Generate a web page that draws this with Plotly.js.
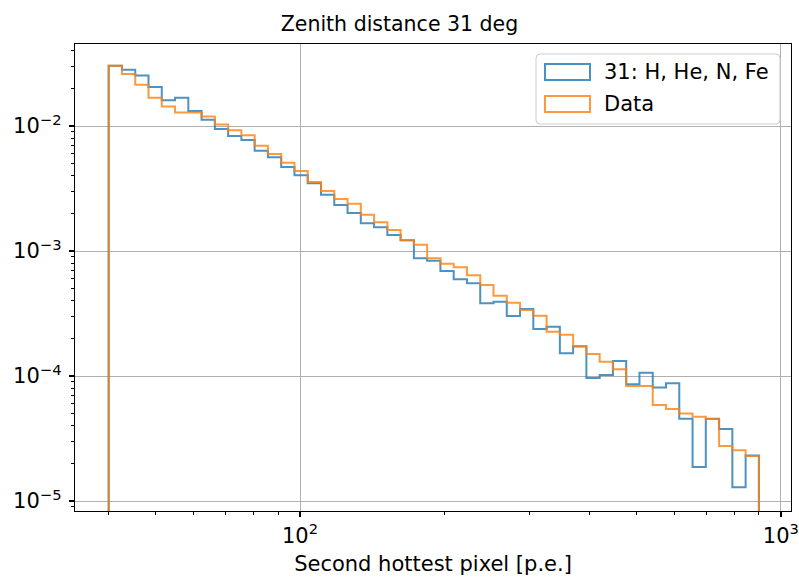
<!DOCTYPE html>
<html>
<head>
<meta charset="utf-8">
<script src="https://cdn.plot.ly/plotly-3.0.1.min.js"></script>
<style>html,body{margin:0;padding:0;background:#fff;}#chart{width:799px;height:577px;}</style>
</head>
<body>
<div id="chart"></div>
<script>
// Histogram binning (log-spaced bins)
const binMin = 40;
const binMax = 900;
const nBins = 49;

// Series names
const seriesNames = ["31: H, He, N, Fe", "Data"];

// Normalised counts per bin
const simValues = [
  0.0304, 0.0282, 0.0253, 0.0205, 0.0161, 0.0168, 0.0132, 0.0112, 0.00946, 0.00832,
  0.00773, 0.00634, 0.00562, 0.0047, 0.00403, 0.00348, 0.00282, 0.00233, 0.00201, 0.00167,
  0.00155, 0.00134, 0.00122, 0.000874, 0.000837, 0.000692, 0.000594, 0.000551, 0.000382, 0.000393,
  0.000302, 0.000344, 0.000238, 0.000248, 0.000152, 0.000172, 0.0000964, 0.000102, 0.000132, 0.0000858,
  0.000106, 0.0000809, 0.0000876, 0.0000455, 0.0000187, 0.0000454, 0.0000377, 0.0000129, 0.0000231
];
const dataValues = [
  0.0304, 0.0261, 0.0214, 0.0168, 0.0143, 0.0128, 0.0128, 0.0119, 0.0103, 0.00924,
  0.00843, 0.00696, 0.00597, 0.00508, 0.00437, 0.00356, 0.00302, 0.00261, 0.00239, 0.00195,
  0.0017, 0.00147, 0.00122, 0.00112, 0.000874, 0.000791, 0.000741, 0.000639, 0.000535, 0.000439,
  0.000386, 0.000337, 0.000304, 0.000226, 0.000214, 0.000174, 0.00015, 0.00013, 0.000113, 0.0000832,
  0.0000832, 0.0000586, 0.0000545, 0.0000501, 0.0000472, 0.0000453, 0.0000275, 0.0000255, 0.0000229
];

// Tick labels
const xTickVals = [100, 1000];
const xTickText = ["10<sup>2</sup>", "10<sup>3</sup>"];
const yTickVals = [1e-2, 1e-3, 1e-4, 1e-5];
const yTickText = ["10<sup>\u22122</sup>", "10<sup>\u22123</sup>", "10<sup>\u22124</sup>", "10<sup>\u22125</sup>"];

// ---- build ----
const edges = [];
for (let i = 0; i <= nBins; i++) edges.push(binMin * Math.pow(binMax / binMin, i / nBins));

const floorVal = 1e-8; // outlines drop to the bottom of the axes like a step histogram
function stepTrace(vals, color, name) {
  const x = [edges[0]], y = [floorVal];
  for (let i = 0; i < vals.length; i++) { x.push(edges[i]); y.push(vals[i]); }
  x.push(edges[vals.length]); y.push(vals[vals.length - 1]);
  x.push(edges[vals.length]); y.push(floorVal);
  return {
    x: x, y: y, type: 'scatter', mode: 'lines', name: name,
    line: {shape: 'hv', color: color, width: 2}, opacity: 0.8,
    showlegend: false, hoverinfo: 'skip', cliponaxis: true
  };
}

const blue = '#1f77b4', orange = '#ff7f0e';
const traces = [stepTrace(simValues, blue, seriesNames[0]), stepTrace(dataValues, orange, seriesNames[1])];

function minorVals(lo, hi) {
  const out = [];
  for (let e = lo; e <= hi; e++) for (let d = 2; d <= 9; d++) out.push(d * Math.pow(10, e));
  return out;
}

const font = {family: 'DejaVu Sans, sans-serif', color: '#000', size: 21};

// legend geometry (paper coords)
const W = 716, H = 467;
const px = v => (v - 75) / W, py = v => (511 - v) / H;
const lx0 = px(536), lx1 = px(780), ly0 = py(124), ly1 = py(54);
const rx = 4 / W, ry = 4 / H;
const legendPath = `M${lx0 + rx},${ly1} L${lx1 - rx},${ly1} Q${lx1},${ly1} ${lx1},${ly1 - ry} L${lx1},${ly0 + ry} Q${lx1},${ly0} ${lx1 - rx},${ly0} L${lx0 + rx},${ly0} Q${lx0},${ly0} ${lx0},${ly0 + ry} L${lx0},${ly1 - ry} Q${lx0},${ly1} ${lx0 + rx},${ly1} Z`;

const shapes = [
  {type: 'path', xref: 'paper', yref: 'paper', path: legendPath, fillcolor: 'rgba(255,255,255,0.8)', line: {color: '#cccccc', width: 1}},
  {type: 'rect', xref: 'paper', yref: 'paper', x0: px(545), x1: px(590), y0: py(80), y1: py(64), line: {color: blue, width: 2}, opacity: 0.8, fillcolor: 'rgba(0,0,0,0)'},
  {type: 'rect', xref: 'paper', yref: 'paper', x0: px(545), x1: px(590), y0: py(112), y1: py(96), line: {color: orange, width: 2}, opacity: 0.8, fillcolor: 'rgba(0,0,0,0)'}
];
const annotations = [
  {xref: 'paper', yref: 'paper', x: px(602), y: py(72), text: seriesNames[0], showarrow: false, xanchor: 'left', yanchor: 'middle', font: font},
  {xref: 'paper', yref: 'paper', x: px(602), y: py(104), text: seriesNames[1], showarrow: false, xanchor: 'left', yanchor: 'middle', font: font}
];

const axisCommon = {
  type: 'log', showline: true, mirror: true, linecolor: '#000', linewidth: 1.3,
  ticks: 'outside', ticklen: 5, tickwidth: 1.2, tickcolor: '#000',
  showgrid: true, gridcolor: '#b0b0b0', gridwidth: 1, zeroline: false,
  tickfont: font
};

const layout = {
  width: 799, height: 577,
  margin: {l: 75, r: 8, t: 44, b: 66},
  paper_bgcolor: '#fff', plot_bgcolor: '#fff',
  font: font,
  title: {text: 'Zenith distance 31 deg', font: {family: font.family, size: 20.5, color: '#000'},
          xref: 'container', x: 0.5, xanchor: 'center', yref: 'container', y: 1 - 24 / 577, yanchor: 'middle'},
  xaxis: Object.assign({}, axisCommon, {
    range: [1.532, 3.021], tickmode: 'array', tickvals: xTickVals, ticktext: xTickText,
    minor: {tickmode: 'array', tickvals: minorVals(1, 2), ticks: 'outside', ticklen: 3, tickwidth: 1, tickcolor: '#000', showgrid: false},
    title: {text: 'Second hottest pixel [p.e.]', font: font, standoff: 9}
  }),
  yaxis: Object.assign({}, axisCommon, {
    range: [-5.08, -1.344], tickmode: 'array', tickvals: yTickVals, ticktext: yTickText,
    ticklabelstandoff: 3,
    minor: {tickmode: 'array', tickvals: minorVals(-6, -2), ticks: 'outside', ticklen: 3, tickwidth: 1, tickcolor: '#000', showgrid: false}
  }),
  shapes: shapes,
  annotations: annotations
};

Plotly.newPlot('chart', traces, layout, {displayModeBar: false, staticPlot: true});
</script>
</body>
</html>
